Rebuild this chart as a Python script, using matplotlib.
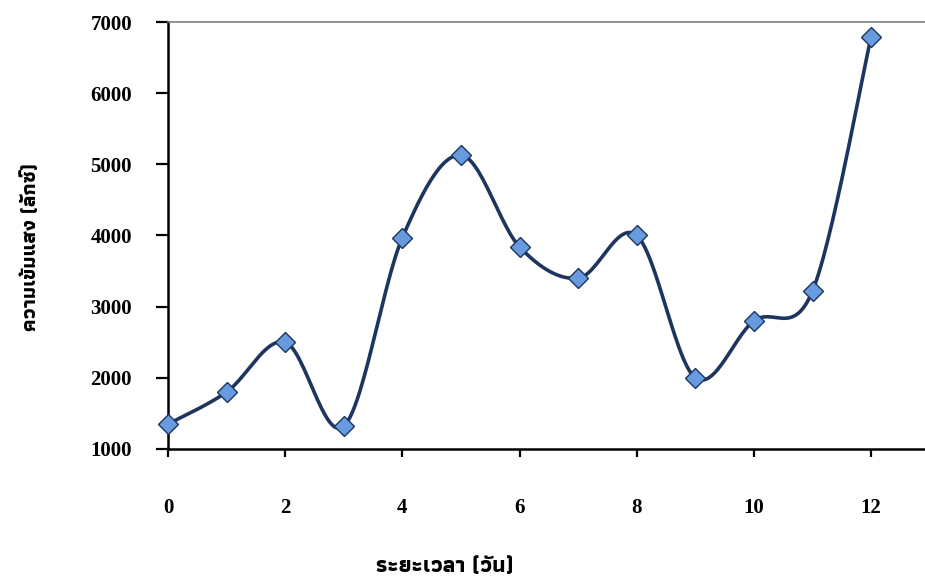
import numpy as np
import matplotlib
matplotlib.use("Agg")
import matplotlib.pyplot as plt
from matplotlib import font_manager, ft2font

# ─────────────────────────────────────────────
# Data
# ─────────────────────────────────────────────
days = [0, 1, 2, 3, 4, 5, 6, 7, 8, 9, 10, 11, 12]
lux = [1350, 1800, 2500, 1320, 3970, 5130, 3840, 3400, 4000, 2000, 2800, 3220, 6790]
x_ticks = [0, 2, 4, 6, 8, 10, 12]
y_ticks = [1000, 2000, 3000, 4000, 5000, 6000, 7000]
x_label = "ระยะเวลา (วัน)"
y_label = "ความเข้มแสง (ลักซ์)"

LINE_COLOR = "#1e3560"
FILL_COLOR = "#679ade"


def find_thai_font():
    """Cari font yang punya glyph Thai (prioritaskan bold)."""
    found = []
    for f in font_manager.fontManager.ttflist:
        try:
            cmap = ft2font.FT2Font(f.fname).get_charmap()
        except Exception:
            continue
        if 0x0E04 in cmap and 0x0E27 in cmap:
            found.append(f)
    if not found:
        return None
    found.sort(key=lambda f: (f.weight not in ("bold", 700), f.name))
    return found[0].name


def smooth_curve(x, y, n=30):
    """Kurva halus gaya Excel (Bezier Catmull-Rom) melewati setiap titik."""
    x = np.asarray(x, float)
    y = np.asarray(y, float)
    xs, ys = [x[0]], [y[0]]
    for i in range(len(x) - 1):
        p0 = np.array([x[max(i - 1, 0)], y[max(i - 1, 0)]])
        p1 = np.array([x[i], y[i]])
        p2 = np.array([x[i + 1], y[i + 1]])
        p3 = np.array([x[min(i + 2, len(x) - 1)], y[min(i + 2, len(x) - 1)]])
        c1 = p1 + (p2 - p0) / 6
        c2 = p2 - (p3 - p1) / 6
        t = np.linspace(0, 1, n)[1:, None]
        pts = ((1 - t) ** 3) * p1 + 3 * ((1 - t) ** 2) * t * c1 + 3 * (1 - t) * t ** 2 * c2 + t ** 3 * p2
        xs.extend(pts[:, 0])
        ys.extend(pts[:, 1])
    return np.array(xs), np.array(ys)


thai_font = find_thai_font()
thai_family = [thai_font, "DejaVu Sans"] if thai_font else ["DejaVu Sans"]
num_family = ["Liberation Serif", "DejaVu Serif"]

fig = plt.figure(figsize=(9.25, 5.81), dpi=100)
ax = fig.add_axes([168 / 925, 1 - 449 / 581, (925 - 168) / 925, (449 - 22) / 581])

sx, sy = smooth_curve(days, lux)
ax.plot(sx, sy, color=LINE_COLOR, lw=2.6, zorder=2, clip_on=False)
ax.plot(days, lux, ls="none", marker="D", ms=10, mfc=FILL_COLOR, mec=LINE_COLOR,
        mew=1.0, zorder=3, clip_on=False)

ax.set_xlim(0, 12.92)
ax.set_ylim(1000, 7000)
ax.set_xticks(x_ticks)
ax.set_yticks(y_ticks)
ax.set_xticklabels([str(v) for v in x_ticks], family=num_family, fontweight="bold", fontsize=15)
ax.set_yticklabels([str(v) for v in y_ticks], family=num_family, fontweight="bold", fontsize=15)
ax.tick_params(axis="x", direction="out", length=6, width=1.6, pad=29, colors="black")
ax.tick_params(axis="y", direction="out", length=9, width=1.6, pad=17, colors="black")

for s in ("left", "bottom"):
    ax.spines[s].set_linewidth(1.8)
    ax.spines[s].set_color("black")
ax.spines["top"].set_color("#7f7f7f")
ax.spines["top"].set_linewidth(1.2)
ax.spines["right"].set_visible(False)

fig.text(445 / 925, 1 - 566 / 581, x_label, family=thai_family, fontweight="bold",
         fontsize=16, ha="center", va="center")
fig.text(31 / 925, 1 - 247 / 581, y_label, family=thai_family, fontweight="bold",
         fontsize=14.5, ha="center", va="center", rotation=90)

fig.savefig("out.png", dpi=100)
